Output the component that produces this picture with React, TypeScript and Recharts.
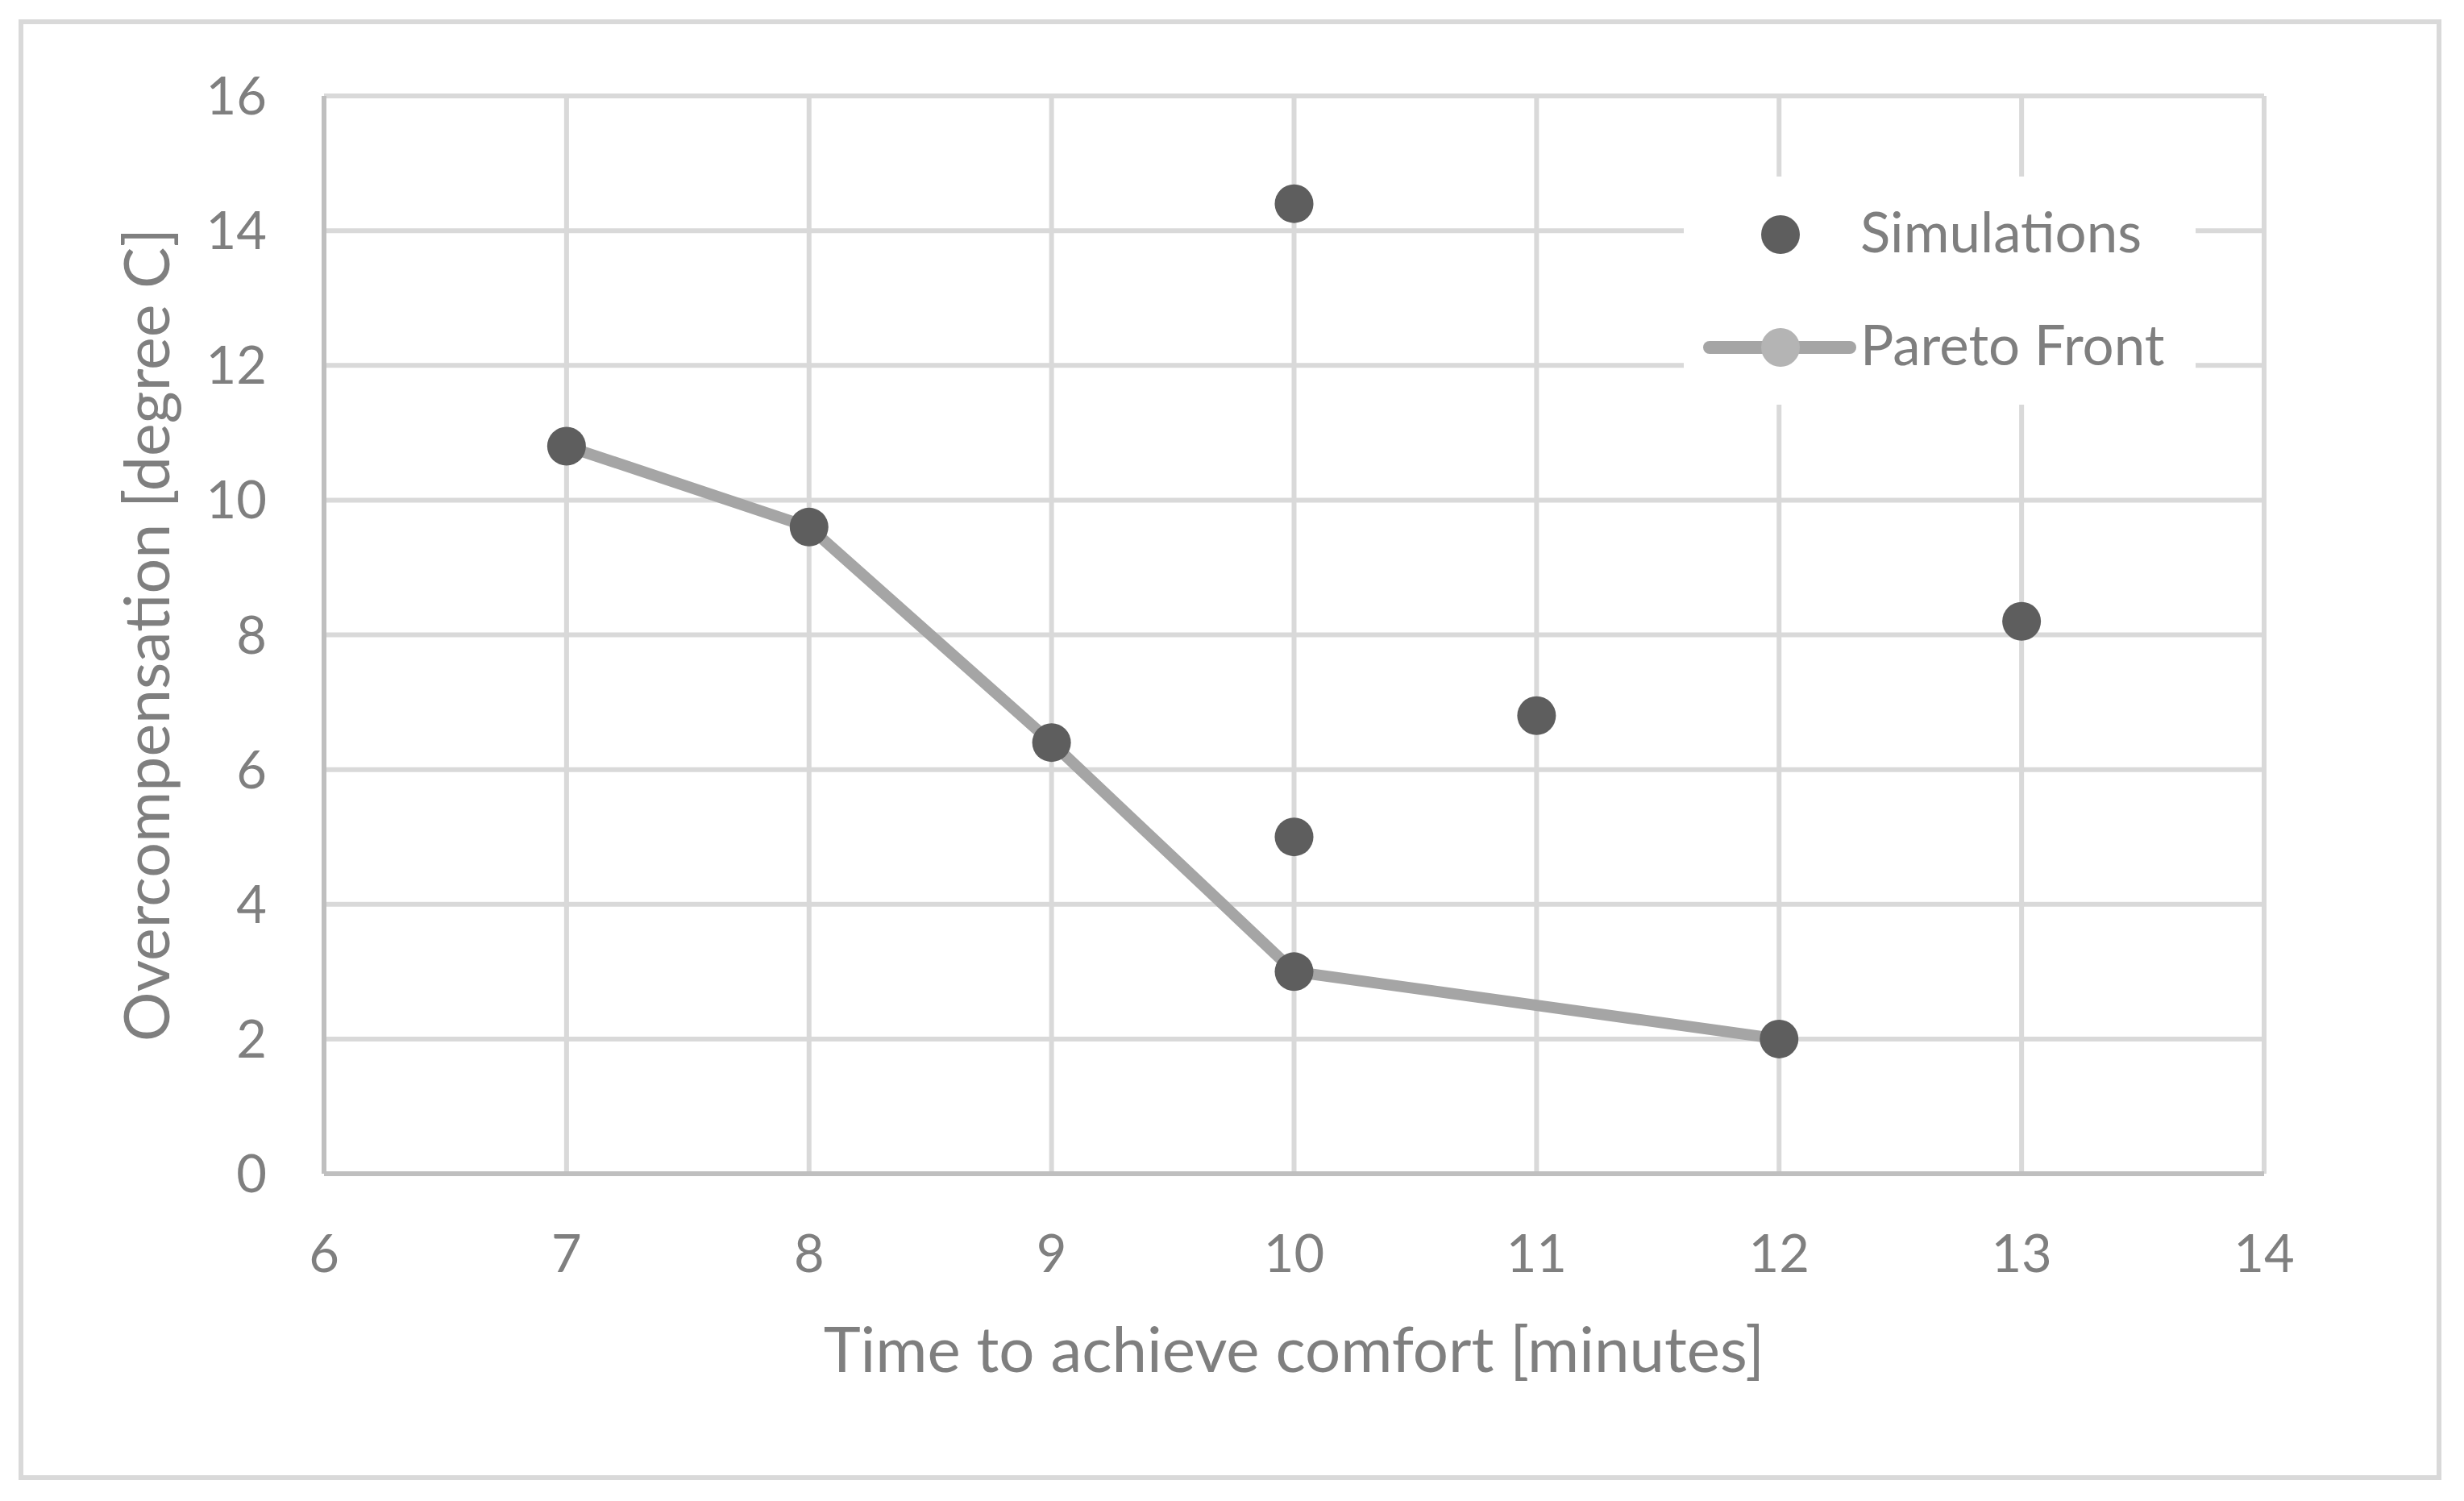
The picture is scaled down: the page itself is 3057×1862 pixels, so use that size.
import React from "react"
import { ComposedChart, Scatter, Line, XAxis, YAxis, CartesianGrid, Legend } from "recharts"

// simulation results (time to comfort [min], overcompensation [deg C])
const simX = [7, 8, 9, 10, 10, 10, 11, 12, 13]
const simY = [10.8, 9.6, 6.4, 14.4, 5, 3, 6.8, 2, 8.2]

// pareto front points
const paretoX = [7, 8, 9, 10, 12]
const paretoY = [10.8, 9.6, 6.4, 3, 2]

const xTicks = [6, 7, 8, 9, 10, 11, 12, 13, 14]
const yTicks = [0, 2, 4, 6, 8, 10, 12, 14, 16]

const simData = simX.map((x, i) => ({ x, y: simY[i] }))
const paretoData = paretoX.map((x, i) => ({ x, y: paretoY[i] }))

const FONT = "Lato"
const TEXT = "#7f7f7f"
const DARK = "#5e5e5e"
const LINE = "#a5a5a5"
const LIGHT = "#b4b4b4"

const dotShape = (p: any) => <circle cx={p.cx} cy={p.cy} r={24} fill={DARK} />

const renderLegend = () => (
  <svg width={635} height={283} style={{ display: "block" }}>
    <rect x={0} y={0} width={635} height={283} fill="#fff" />
    <circle cx={120} cy={72} r={24} fill={DARK} />
    <text x={219} y={94} fill={TEXT} fontSize={69} fontFamily={FONT}>Simulations</text>
    <line x1={32} y1={212} x2={206} y2={212} stroke={LINE} strokeWidth={16} strokeLinecap="round" />
    <circle cx={120} cy={212} r={24} fill={LIGHT} />
    <text x={219} y={234} fill={TEXT} fontSize={69} fontFamily={FONT}>Pareto Front</text>
  </svg>
)

export default function App() {
  return (
    <div style={{ position: "absolute", left: 0, top: 0, width: 3057, height: 1862, background: "#fff" }}>
      <div style={{ position: "absolute", left: 23, top: 24, width: 2994, height: 1800, border: "6px solid #d9d9d9" }} />
      <ComposedChart
        width={3057}
        height={1862}
        margin={{ top: 119, right: 248, bottom: 206, left: 0 }}
        style={{ position: "absolute", left: 0, top: 0 }}
      >
        <CartesianGrid stroke="#d9d9d9" strokeWidth={6} />
        <XAxis
          type="number"
          dataKey="x"
          domain={[6, 14]}
          ticks={xTicks}
          height={200}
          tickSize={0}
          tickMargin={76}
          axisLine={{ stroke: "#bfbfbf", strokeWidth: 6 }}
          tickLine={false}
          tick={{ fill: TEXT, fontSize: 65, fontFamily: FONT }}
          allowDuplicatedCategory={false}
          label={{
            content: (props: any) => {
              const vb = props.viewBox
              return (
                <text x={vb.x + vb.width / 2} y={vb.y + 246} textAnchor="middle" fill={TEXT} fontSize={78} fontFamily={FONT}>
                  Time to achieve comfort [minutes]
                </text>
              )
            },
          }}
        />
        <YAxis
          type="number"
          dataKey="y"
          domain={[0, 16]}
          ticks={yTicks}
          width={402}
          tickSize={0}
          tickMargin={71}
          axisLine={{ stroke: "#bfbfbf", strokeWidth: 6 }}
          tickLine={false}
          tick={{ fill: TEXT, fontSize: 65, fontFamily: FONT }}
          label={{
            content: (props: any) => {
              const vb = props.viewBox
              const cy = vb.y + vb.height / 2
              return (
                <text x={210} y={cy} transform={`rotate(-90, 210, ${cy})`} textAnchor="middle" fill={TEXT} fontSize={77} fontFamily={FONT}>
                  Overcompensation [degree C]
                </text>
              )
            },
          }}
        />
        <Line
          data={paretoData}
          dataKey="y"
          type="linear"
          stroke={LINE}
          strokeWidth={14}
          strokeLinejoin="round"
          dot={false}
          activeDot={false}
          isAnimationActive={false}
          name="Pareto Front"
        />
        <Scatter data={simData} dataKey="y" shape={dotShape} isAnimationActive={false} name="Simulations" />
        <Legend
          layout="vertical"
          align="center"
          verticalAlign="middle"
          content={renderLegend}
          wrapperStyle={{ left: 2089, top: 219, width: 635, height: 283 }}
        />
      </ComposedChart>
    </div>
  )
}
